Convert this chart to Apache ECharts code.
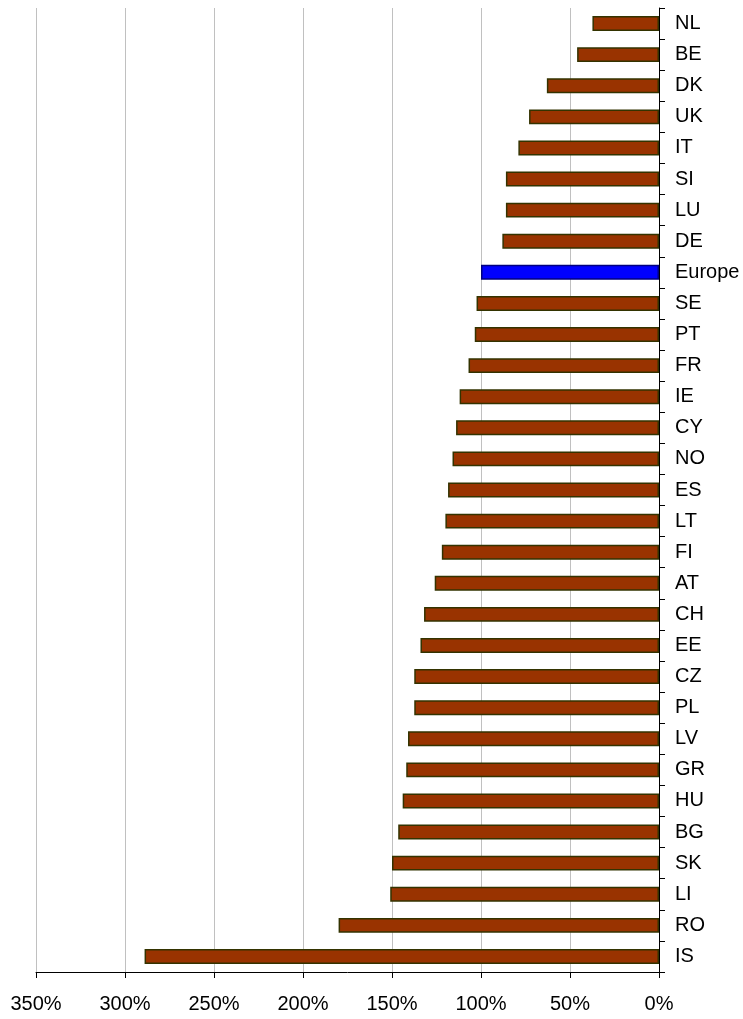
<!DOCTYPE html>
<html>
<head>
<meta charset="utf-8">
<script src="https://cdn.jsdelivr.net/npm/echarts@6/dist/echarts.min.js"></script>
<style>html,body{margin:0;padding:0;background:#fff}#c{width:743px;height:1019px}</style>
</head>
<body>
<div id="c"></div>
<script>
const categories = ["NL","BE","DK","UK","IT","SI","LU","DE","Europe","SE","PT","FR","IE","CY","NO","ES","LT","FI","AT","CH","EE","CZ","PL","LV","GR","HU","BG","SK","LI","RO","IS"];
const values = [37.4,46,63,73,79,86,86,88,100,102.5,103.5,107,112,114,116,118.5,120,122,126,132,134,137.5,137.5,141,142,144,146.5,150,151,180,289];
const highlight = "Europe";
const tickLabels = ["0%","50%","100%","150%","200%","250%","300%","350%"];

const chart = echarts.init(document.getElementById('c'), null, {renderer:'canvas'});
const data = values.map((v,i)=>({
  value: v,
  itemStyle: categories[i]===highlight
    ? {color:'#0000ff', borderColor:'#000080', borderWidth:1.5}
    : {color:'#993300', borderColor:'#333300', borderWidth:1.5}
}));
chart.setOption({
  animation:false,
  grid:{left:36,right:84,top:8,bottom:47,containLabel:false},
  xAxis:{
    type:'value', inverse:true, min:0, max:350, interval:50,
    axisLine:{show:true,lineStyle:{color:'#000',width:1}},
    axisTick:{show:true,length:6,lineStyle:{color:'#000'}},
    axisLabel:{formatter:(v)=>tickLabels[v/50], fontFamily:'Liberation Sans, Arial, sans-serif', fontSize:20, color:'#000', margin:22},
    splitLine:{show:true,lineStyle:{color:'#c0c0c0',width:1}}
  },
  yAxis:{
    type:'category', data:categories, inverse:true, position:'right',
    axisLine:{show:true,onZero:false,lineStyle:{color:'#000',width:1}},
    axisTick:{show:true,length:6,lineStyle:{color:'#000'}},
    axisLabel:{fontFamily:'Liberation Sans, Arial, sans-serif', fontSize:20, color:'#000', margin:16},
    splitLine:{show:false}
  },
  series:[{
    type:'bar', data:data, barCategoryGap:'52%'
  }]
});
</script>
</body>
</html>
